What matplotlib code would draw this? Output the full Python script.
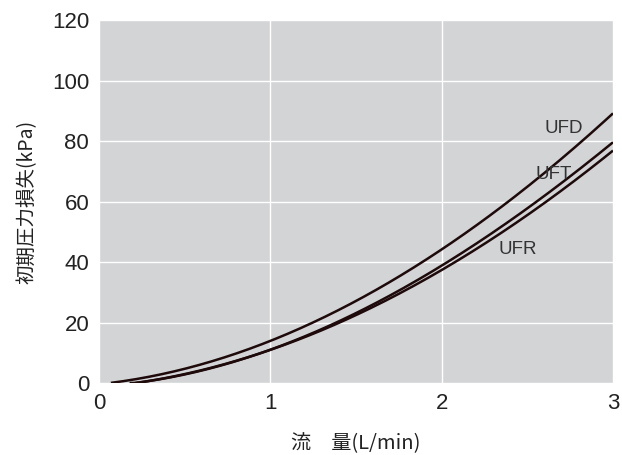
import matplotlib
matplotlib.use("Agg")
import matplotlib.pyplot as plt
import numpy as np

plt.rcParams['font.family'] = ['Liberation Sans', 'Noto Sans CJK JP', 'DejaVu Sans']

# values
x_ufd = [0.07, 0.5, 1.0, 1.5, 2.0, 2.5, 3.0]
y_ufd = [0.0, 4.8, 14.2, 26.8, 44.0, 65.3, 89.0]
x_uft = [0.18, 0.5, 1.0, 1.5, 2.0, 2.5, 3.0]
y_uft = [0.0, 2.6, 10.9, 23.5, 38.8, 57.5, 79.7]
x_ufr = [0.18, 0.5, 1.0, 1.5, 2.0, 2.5, 3.0]
y_ufr = [0.0, 2.6, 10.7, 23.2, 37.2, 55.2, 77.0]
names = ['UFD', 'UFT', 'UFR']
label_pos = [(2.60, 84.0), (2.55, 68.8), (2.33, 44.3)]

line_color = '#1e0a0a'

fig = plt.figure(figsize=(6.22, 4.55), dpi=100)
ax = fig.add_axes([0.159, 0.158, 0.8265, 0.798])
ax.set_facecolor('#d3d4d6')

for xs, ys in [(x_ufd, y_ufd), (x_uft, y_uft), (x_ufr, y_ufr)]:
    coef = np.polyfit(xs, ys, 3)
    xx = np.linspace(xs[0], xs[-1], 200)
    yy = np.clip(np.polyval(coef, xx), 0, None)
    ax.plot(xx, yy, color=line_color, lw=1.8, zorder=3, solid_capstyle='butt')

for name, (tx, ty) in zip(names, label_pos):
    ax.text(tx, ty, name, fontsize=13.5, color='#333333', va='center', ha='left', zorder=4)

ax.set_xlim(0, 3)
ax.set_ylim(0, 120)
ax.set_xticks([0, 1, 2, 3])
ax.set_yticks([0, 20, 40, 60, 80, 100, 120])
ax.grid(True, color='white', lw=1.0)
ax.set_axisbelow(True)
for s in ax.spines.values():
    s.set_visible(False)
ax.tick_params(length=0, labelsize=16, colors='#222222', pad=7)

ax.set_xlabel('流　量(L/min)', fontsize=14.5, color='#222222', labelpad=14,
              family=['Noto Sans CJK JP', 'DejaVu Sans'])
ax.set_ylabel('初期圧力損失(kPa)', fontsize=14, color='#222222', labelpad=10,
              family=['Noto Sans CJK JP', 'DejaVu Sans'])

fig.savefig('out.png', dpi=100)
